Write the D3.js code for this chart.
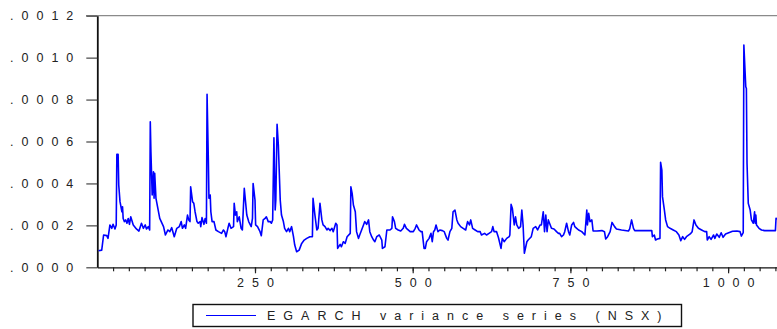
<!DOCTYPE html>
<html>
<head>
<meta charset="utf-8">
<script src="https://cdn.jsdelivr.net/npm/d3@7"></script>
<style>
  body { margin: 0; background: #fff; }
  svg { display: block; font-family: "Liberation Sans", Arial, sans-serif; }
</style>
</head>
<body>
<div id="chart"></div>
<script>
const obs = [
  2, 7, 10, 15, 17, 20, 23, 25, 28, 30, 31, 33, 34, 36, 39, 40, 41, 43, 45, 47, 49, 51, 53, 57, 62, 66, 70, 73, 76, 78,
  81, 83, 84, 85, 87, 89, 90, 91, 93, 96, 99, 105, 108, 112, 115, 118, 122, 126, 130, 133, 135, 138, 140, 143, 145, 147, 148, 151, 153, 155,
  158, 160, 163, 164, 166, 169, 171, 173, 174, 176, 177, 179, 180, 182, 185, 188, 192, 197, 200, 202, 204, 207, 209, 212, 216, 217, 219, 221, 222, 225,
  228, 230, 233, 235, 237, 240, 244, 246, 247, 250, 251, 254, 258, 260, 263, 266, 268, 271, 274, 276, 278, 280, 282, 283, 285, 287, 290, 292, 295, 297,
  300, 303, 305, 308, 311, 313, 316, 320, 324, 328, 332, 337, 341, 342, 345, 348, 350, 353, 356, 358, 361, 364, 366, 369, 372, 374, 378, 380, 381, 385,
  387, 390, 393, 396, 401, 402, 404, 406, 409, 411, 414, 416, 419, 422, 424, 427, 430, 432, 435, 438, 440, 443, 447, 451, 452, 456, 459, 464, 467, 468,
  471, 473, 477, 481, 485, 487, 490, 496, 501, 504, 506, 510, 513, 515, 518, 520, 522, 526, 529, 531, 533, 535, 537, 540, 543, 547, 550, 554, 556, 559,
  562, 564, 567, 570, 572, 576, 580, 584, 587, 590, 592, 595, 599, 603, 607, 609, 614, 617, 621, 625, 627, 629, 633, 636, 640, 642, 645, 649, 653, 654,
  656, 658, 661, 663, 665, 668, 671, 673, 675, 677, 681, 683, 688, 691, 695, 698, 702, 704, 707, 709, 711, 713, 715, 718, 720, 724, 728, 731, 733, 736,
  739, 741, 744, 747, 749, 752, 755, 757, 760, 763, 768, 773, 776, 777, 779, 781, 784, 786, 792, 800, 804, 806, 809, 813, 816, 820, 823, 831, 842, 844,
  847, 850, 852, 879, 880, 883, 885, 888, 892, 893, 895, 896, 899, 901, 904, 908, 913, 918, 922, 925, 928, 931, 934, 940, 943, 946, 949, 953, 958, 963,
  966, 967, 970, 973, 977, 979, 982, 986, 989, 992, 996, 1001, 1007, 1014, 1019, 1021, 1024, 1025, 1028, 1029, 1030, 1032, 1035, 1037, 1040, 1042, 1043, 1044, 1045, 1049,
  1053, 1058, 1075, 1076, 1078
];
const varE4 = [
  0.79, 0.82, 1.54, 1.51, 1.38, 2.02, 1.86, 2.05, 1.83, 2.02, 5.39, 5.39, 3.92, 3.13, 2.65, 2.89, 2.33, 2.18, 2.26, 2.10, 2.33, 2.05, 2.41, 2.02, 1.83, 1.73, 2.10, 1.86, 2.02, 1.83,
  1.94, 1.78, 6.94, 5.51, 3.45, 4.56, 3.29, 4.48, 3.29, 2.81, 2.33, 1.94, 1.54, 1.78, 1.70, 1.89, 1.46, 1.86, 1.94, 2.18, 1.86, 2.02, 1.86, 2.49, 2.26, 2.18, 3.84, 3.13, 3.05, 2.65,
  2.18, 2.10, 2.18, 1.94, 2.37, 2.05, 2.33, 2.10, 8.25, 5.20, 3.29, 3.45, 2.65, 2.18, 2.18, 1.78, 1.70, 1.62, 1.78, 1.70, 1.46, 1.86, 2.10, 1.86, 1.94, 3.05, 2.49, 2.65, 2.18, 2.41,
  1.86, 1.78, 3.77, 3.13, 2.49, 2.18, 1.94, 2.33, 4.00, 3.21, 2.02, 1.94, 1.70, 1.51, 2.26, 2.33, 2.41, 2.18, 2.18, 2.10, 2.26, 6.18, 2.73, 3.21, 6.82, 5.83, 3.21, 2.49, 2.18, 1.86,
  1.70, 1.86, 1.70, 1.94, 1.46, 1.06, 0.74, 0.82, 1.14, 1.30, 1.38, 1.46, 1.46, 3.29, 2.49, 1.78, 1.86, 3.05, 2.26, 2.02, 1.94, 1.78, 1.86, 1.75, 1.86, 1.70, 2.10, 2.02, 0.90, 1.09,
  0.98, 1.22, 1.14, 1.46, 1.62, 3.84, 3.53, 2.97, 2.65, 1.70, 1.38, 1.54, 1.78, 2.02, 2.18, 2.05, 2.26, 1.70, 1.46, 1.30, 1.22, 1.46, 1.54, 1.30, 0.90, 0.98, 1.78, 1.78, 1.86, 2.41,
  2.18, 1.86, 1.78, 1.73, 1.86, 2.05, 1.86, 1.70, 1.70, 1.86, 2.02, 1.78, 1.70, 1.70, 0.90, 0.90, 1.22, 1.38, 1.62, 1.22, 1.70, 1.78, 2.02, 1.70, 1.78, 1.75, 1.70, 1.38, 1.30, 1.70,
  1.86, 2.65, 2.73, 2.26, 2.10, 1.94, 1.86, 1.78, 2.18, 2.02, 2.26, 1.86, 1.78, 1.70, 1.70, 1.54, 1.62, 1.54, 1.62, 1.70, 1.94, 1.70, 1.70, 1.41, 0.90, 1.38, 1.22, 1.38, 1.46, 1.54,
  3.00, 2.81, 2.02, 2.41, 2.02, 1.86, 1.94, 2.73, 2.02, 0.67, 1.22, 1.30, 1.46, 1.86, 1.94, 1.78, 2.02, 2.02, 2.65, 1.70, 2.49, 1.70, 2.26, 2.02, 1.86, 1.83, 1.70, 1.62, 1.62, 1.46,
  1.54, 1.70, 2.10, 1.70, 1.54, 2.02, 2.14, 1.94, 1.86, 1.78, 1.70, 1.54, 2.73, 2.02, 2.57, 2.18, 2.26, 1.73, 1.73, 1.75, 1.70, 1.35, 1.46, 1.70, 2.14, 1.94, 1.83, 1.78, 1.73, 1.83,
  2.26, 1.86, 1.75, 1.75, 1.46, 1.54, 1.30, 1.35, 1.38, 5.01, 4.64, 3.37, 2.73, 2.26, 1.94, 1.86, 1.78, 1.70, 1.54, 1.27, 1.46, 1.33, 1.46, 1.59, 1.70, 2.26, 2.02, 1.86, 1.78, 1.70,
  1.70, 1.30, 1.46, 1.33, 1.54, 1.38, 1.59, 1.43, 1.65, 1.43, 1.59, 1.65, 1.72, 1.73, 1.70, 1.49, 1.65, 10.60, 8.61, 8.53, 4.96, 3.05, 2.73, 2.26, 2.10, 2.65, 2.10, 2.49, 2.02, 1.86,
  1.78, 1.75, 1.75, 2.34, 2.30
];

const yTickValues = [0, 0.0002, 0.0004, 0.0006, 0.0008, 0.0010, 0.0012];
const xMajorTicks = [250, 500, 750, 1000];
const xMinorTicks = d3.range(25, 1076, 25);
const seriesName = "EGARCH variance series (NSX)";

const width = 777, height = 329;
const plot = { left: 97.3, right: 777.3, top: 15.7, bottom: 267.3 };

const svg = d3.select("#chart").append("svg")
    .attr("width", width)
    .attr("height", height);

const x = d3.scaleLinear().domain([0, 1078]).range([plot.left, plot.right]);
const y = d3.scaleLinear().domain([0, 0.0012]).range([plot.bottom, plot.top]);

const data = obs.map((o, i) => ({ obs: o, v: varE4[i] * 1e-4 }));

const ls = 8; // wide letter spacing like the original graph

// top frame line
svg.append("line")
    .attr("x1", 86).attr("x2", width)
    .attr("y1", plot.top).attr("y2", plot.top)
    .attr("stroke", "#8a8a8a").attr("stroke-width", 1.2);

// y axis
const yAxis = svg.append("g")
    .attr("transform", `translate(${plot.left},0)`)
    .call(d3.axisLeft(y)
        .tickValues(yTickValues)
        .tickSize(11)
        .tickSizeOuter(0)
        .tickPadding(5)
        .tickFormat(d => d3.format(".4f")(d).replace(/^0/, "")));
yAxis.select(".domain").attr("stroke", "#111").attr("stroke-width", 1.8);
yAxis.selectAll(".tick line").attr("stroke", "#444").attr("stroke-width", 1.2);
yAxis.selectAll(".tick text")
    .attr("font-size", 12.5)
    .attr("fill", "#222")
    .style("letter-spacing", ls + "px");

// x axis: minor ticks
const xMinor = svg.append("g")
    .attr("transform", `translate(0,${plot.bottom})`)
    .call(d3.axisBottom(x).tickValues(xMinorTicks).tickSize(4).tickSizeOuter(0).tickFormat(""));
xMinor.select(".domain").attr("stroke", "#111").attr("stroke-width", 1.2);
xMinor.selectAll(".tick line").attr("stroke", "#222").attr("stroke-width", 1.2);

// x axis: labelled ticks
const xMajor = svg.append("g")
    .attr("transform", `translate(0,${plot.bottom})`)
    .call(d3.axisBottom(x).tickValues(xMajorTicks).tickSize(6).tickSizeOuter(0).tickPadding(5)
        .tickFormat(d3.format("d")));
xMajor.select(".domain").remove();
xMajor.selectAll(".tick line").attr("stroke", "#222").attr("stroke-width", 1.2);
xMajor.selectAll(".tick text")
    .attr("font-size", 12.5)
    .attr("fill", "#222")
    .attr("dx", ls / 2)
    .style("letter-spacing", ls + "px");

// clip the series to the plot area
svg.append("clipPath").attr("id", "plot-clip")
    .append("rect")
    .attr("x", plot.left).attr("y", plot.top)
    .attr("width", width - plot.left).attr("height", plot.bottom - plot.top);

const line = d3.line()
    .x(d => x(d.obs))
    .y(d => y(d.v));

svg.append("path")
    .datum(data)
    .attr("clip-path", "url(#plot-clip)")
    .attr("fill", "none")
    .attr("stroke", "#0000ff")
    .attr("stroke-width", 1.6)
    .attr("stroke-linejoin", "round")
    .attr("d", line);

// legend
const legend = svg.append("g");
legend.append("rect")
    .attr("x", 193).attr("y", 304.5)
    .attr("width", 488.5).attr("height", 22)
    .attr("fill", "#fff")
    .attr("stroke", "#111")
    .attr("stroke-width", 1.4);
legend.append("line")
    .attr("x1", 206).attr("x2", 256)
    .attr("y1", 315.5).attr("y2", 315.5)
    .attr("stroke", "#0000ff").attr("stroke-width", 1);
legend.append("text")
    .attr("x", 267)
    .attr("y", 315.5)
    .attr("dy", "0.35em")
    .attr("font-size", 12.5)
    .attr("fill", "#222")
    .style("letter-spacing", ls + "px")
    .text(seriesName);
</script>
</body>
</html>
